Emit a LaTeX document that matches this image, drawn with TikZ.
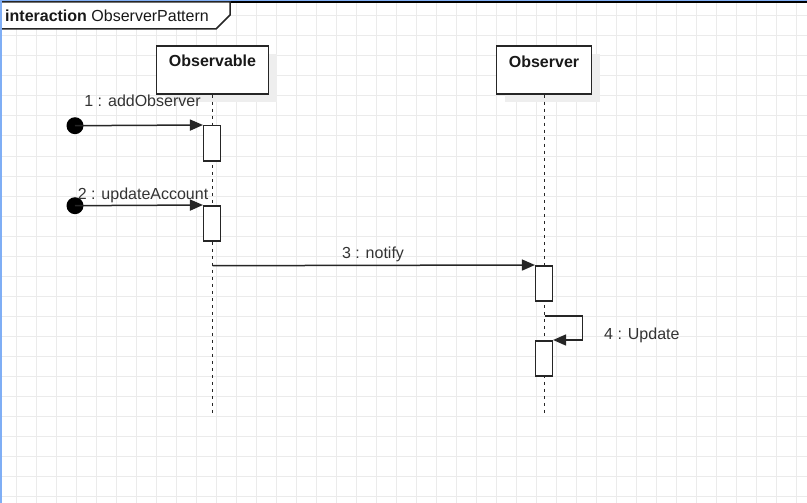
\documentclass[tikz,border=0pt]{standalone}
\usepackage{fontspec}
\setmainfont{Liberation Sans}
\usetikzlibrary{arrows.meta}
\definecolor{gridc}{HTML}{EBEBEB}
\definecolor{ink}{HTML}{262626}
\definecolor{txt}{HTML}{333333}
\definecolor{selblue}{HTML}{7FAEF5}
\definecolor{shade}{HTML}{EEEEEE}
\begin{document}
\begin{tikzpicture}[x=1pt,y=-1pt,
  every node/.style={font=\fontsize{16}{19}\selectfont},
  lbl/.style={anchor=base, text=txt, inner sep=0},
  headbox/.style={draw=ink, line width=1.5pt, fill=white, minimum height=48pt, inner sep=0},
  headshade/.style={fill=shade, minimum height=48pt, inner sep=0},
  headtext/.style={anchor=base, inner sep=0, text=black!90, font=\fontsize{16}{19}\selectfont\bfseries},
  act/.style={draw=ink, line width=1.5pt, fill=white, minimum width=16.6pt, minimum height=35.3pt, inner sep=0},
  lifeline/.style={draw=ink, line width=1.5pt, dash pattern=on 3pt off 4pt},
  msg/.style={draw=ink, line width=1.5pt, -{Triangle[length=13pt,width=11pt]}},
  startdot/.style={circle, fill=black, minimum size=17pt, inner sep=0},
  gridline/.style={draw=gridc, line width=1pt}]
\useasboundingbox (0,0) rectangle (807,503);

% background grid
\foreach \gx in {16.5,36.5,...,806.5} \draw[gridline] (\gx,0) -- (\gx,503);
\foreach \gy in {16,36,...,496} \draw[gridline] (0,\gy) -- (807,\gy);

% frame edges
\fill[selblue] (0,0) rectangle (807,1.4);
\fill[selblue] (0,0) rectangle (2,503);
\draw[black, line width=1.3pt] (2,2) -- (807,2);

% frame tab
\draw[ink, line width=1.5pt, fill=white] (2,2) -- (230,2) -- (230,15) -- (216,29) -- (2,29);
\node[anchor=base west, inner sep=0, text=black!90] (title) at (5,21.6) {\textbf{interaction} ObserverPattern};

% lifeline heads with shadows
\node[headshade, minimum width=112pt] (obsshade) at (221,78.5) {};
\node[headshade, minimum width=95pt] (obrshade) at (552.5,78.5) {};
\node[headbox, minimum width=112pt] (obs) at (212.5,70) {};
\node[headbox, minimum width=95pt] (obr) at (544,70) {};
\node[headtext] (obstext) at (212.5,66.7) {Observable};
\node[headtext] (obrtext) at (544,67.2) {Observer};

% lifelines
\coordinate (obsend) at (212.5,414);
\coordinate (obrend) at (544.5,414);
\draw[lifeline] (obs.south) -- (obsend);
\draw[lifeline] ([xshift=0.5pt]obr.south) -- (obrend);

% activation bars
\node[act] (a1) at (212,143.4) {};
\node[act] (a2) at (212,223.4) {};
\node[act] (b1) at (544,283.4) {};
\node[act] (b2) at (544,358.4) {};

% found-message start points
\node[startdot] (c1) at (75,125.7) {};
\node[startdot] (c2) at (75,205.7) {};

% messages
\draw[msg] (c1.center) -- (a1.north west);
\draw[msg] (c2.center) -- (a2.north west);
\coordinate (m3) at (212.5,265.7);
\draw[msg] (m3) -- (b1.north west);
\coordinate (m4) at (544.5,316);
\draw[msg] (m4) -- ++(38,0) |- (b2.north east);

% message labels
\node[lbl] (l1) at (142.5,106.7) {1 : addObserver};
\node[lbl] (l2) at (143,199.3) {2 : updateAccount};
\node[lbl] (l3) at (373,258.3) {3 : notify};
\node[lbl, anchor=base west] (l4) at (604,339) {4 : Update};
\end{tikzpicture}
\end{document}
